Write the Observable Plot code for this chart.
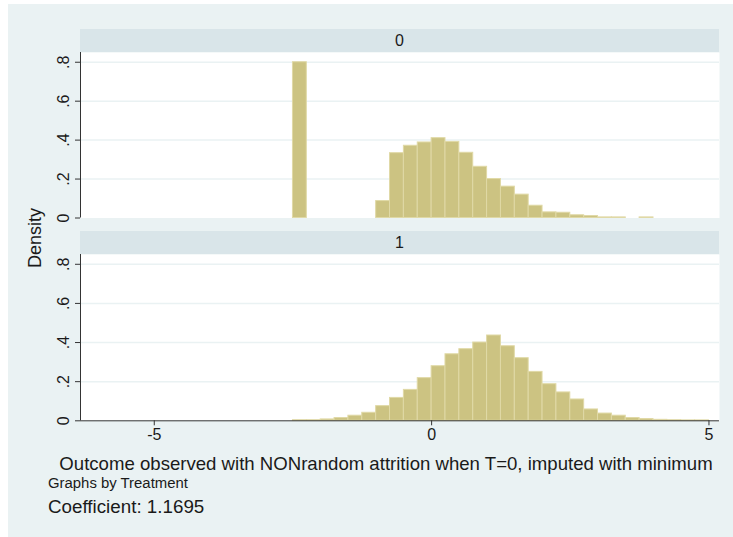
<!DOCTYPE html>
<html>
<head>
<meta charset="utf-8">
<script src="https://cdn.jsdelivr.net/npm/d3@7"></script>
<script src="https://cdn.jsdelivr.net/npm/@observablehq/plot@0.6"></script>
<style>
  html, body { margin: 0; padding: 0; background: #ffffff; }
  #root { position: relative; width: 733px; height: 537px; overflow: hidden; font-family: "Liberation Sans", Arial, sans-serif; color: #1a1a1a; }
  #bg { position: absolute; left: 8px; top: 4px; right: 0; bottom: 0; background: #eaf2f3; }
  .strip { position: absolute; left: 80px; width: 639px; height: 23px; background: #d9e5e9; font-size: 16px; line-height: 23px; text-align: center; }
  .panel { position: absolute; left: 0; }
  .txt { position: absolute; white-space: nowrap; }
</style>
</head>
<body>
<div id="root">
  <div id="bg"></div>
</div>
<script>
// ---- data ----
const treatments = ["0", "1"];
const binLower = [-2.5, -2.25, -2, -1.75, -1.5, -1.25, -1, -0.75, -0.5, -0.25,
                  0, 0.25, 0.5, 0.75, 1, 1.25, 1.5, 1.75, 2, 2.25,
                  2.5, 2.75, 3, 3.25, 3.5, 3.75, 4, 4.25, 4.5, 4.75];
const binWidth = 0.25;
const densityT0 = [0.80, 0, 0, 0, 0, 0, 0.087, 0.333, 0.371, 0.388,
                   0.410, 0.391, 0.335, 0.263, 0.200, 0.161, 0.120, 0.063, 0.029, 0.027,
                   0.014, 0.010, 0.003, 0.003, 0, 0.003, 0, 0, 0, 0];
const densityT1 = [0.003, 0.003, 0.007, 0.014, 0.026, 0.041, 0.075, 0.117, 0.158, 0.218,
                   0.279, 0.340, 0.366, 0.400, 0.436, 0.381, 0.320, 0.250, 0.187, 0.145,
                   0.109, 0.058, 0.037, 0.026, 0.014, 0.009, 0.005, 0.003, 0.002, 0.002];
const xTicks = [-5, 0, 5];
const yTicks = [0, 0.2, 0.4, 0.6, 0.8];
const xDomain = [-6.33, 5.19];
const yDomain = [0, 0.85];
const xTitle = "Outcome observed with NONrandom attrition when T=0, imputed with minimum";
const yTitle = "Density";
const noteText = "Graphs by Treatment";
const captionText = "Coefficient: 1.1695";

const series = [densityT0, densityT1];
const root = document.getElementById("root");

const FILL = "#ccc382", OUTLINE = "#e0d9a6", AXIS = "#333333", GRID = "#eaf2f3";
const fmtY = d => d === 0 ? "0" : String(d).replace(/^0\./, ".");
const fmtX = d => String(d);

// layout of each panel (strip top, plot top, plot height)
const layout = [
  {strip: 28.5, top: 52, h: 165.5, bottomAxis: false},
  {strip: 230.7, top: 254, h: 166.3, bottomAxis: true}
];

treatments.forEach((t, i) => {
  const L = layout[i];
  const rows = binLower.map((x0, k) => ({x0, x1: x0 + binWidth, density: series[i][k]}))
                       .filter(d => d.density > 0);
  const strip = document.createElement("div");
  strip.className = "strip";
  strip.style.top = L.strip + "px";
  strip.textContent = t;
  root.appendChild(strip);

  const marginBottom = L.bottomAxis ? 30 : 8;
  const marks = [
    Plot.frame({fill: "white", stroke: "none"}),
    Plot.gridY(yTicks.filter(d => d > 0), {stroke: GRID, strokeOpacity: 1, strokeWidth: 1.5}),
    Plot.rectY(rows, {x1: "x0", x2: "x1", y: "density", fill: FILL, stroke: OUTLINE, strokeWidth: 1}),
    Plot.ruleX([xDomain[0]], {stroke: AXIS, strokeWidth: 1}),
    Plot.axisY({ticks: yTicks, tickFormat: fmtY, tickRotate: -90, tickSize: 5, tickPadding: 7,
                fontSize: 16, stroke: AXIS, fill: "#1a1a1a", label: null})
  ];
  if (L.bottomAxis) {
    marks.push(Plot.ruleY([0], {stroke: AXIS, strokeWidth: 1}));
    marks.push(Plot.axisX({ticks: xTicks, tickFormat: fmtX, tickSize: 5, tickPadding: 3, fontSize: 16,
                           stroke: AXIS, fill: "#1a1a1a", label: null}));
  }
  const svg = Plot.plot({
    width: 733,
    height: L.h + marginBottom,
    marginLeft: 80, marginRight: 14, marginTop: 0, marginBottom,
    x: {domain: xDomain, axis: L.bottomAxis ? undefined : null},
    y: {domain: yDomain},
    style: {background: "transparent", overflow: "visible", fontFamily: "Liberation Sans, Arial, sans-serif"},
    marks
  });
  const wrap = document.createElement("div");
  wrap.className = "panel";
  wrap.style.top = L.top + "px";
  wrap.appendChild(svg);
  root.appendChild(wrap);
});

function addText(str, opts) {
  const d = document.createElement("div");
  d.className = "txt";
  d.textContent = str;
  Object.assign(d.style, opts);
  root.appendChild(d);
  return d;
}
addText(yTitle, {left: "35px", top: "238px", fontSize: "18px", lineHeight: "18px",
                 transform: "translate(-50%, -50%) rotate(-90deg)"});
addText(xTitle, {left: "386px", top: "464px", fontSize: "18.6px", lineHeight: "16px",
                 transform: "translate(-50%, -50%)"});
addText(noteText, {left: "48px", top: "483px", fontSize: "14.9px", lineHeight: "13px",
                   transform: "translateY(-50%)"});
addText(captionText, {left: "48px", top: "506px", fontSize: "18.8px", lineHeight: "17px",
                      transform: "translateY(-50%)"});
</script>
</body>
</html>
